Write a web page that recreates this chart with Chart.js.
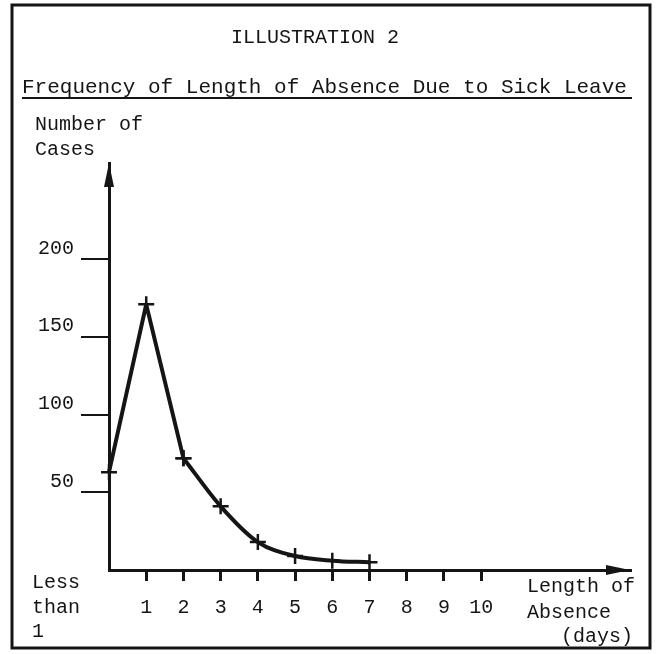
<!DOCTYPE html>
<html>
<head>
<meta charset="utf-8">
<title>Illustration 2</title>
<script src="https://cdn.jsdelivr.net/npm/chart.js@4.4.1/dist/chart.umd.min.js"></script>
<style>
    body { margin: 0; background: #fff; }
    #wrap { width: 657px; height: 654px; position: relative; }
</style>
</head>
<body>
<div id="wrap"><canvas id="line-chart"></canvas></div>
<script>
// length of absence (days), 0 = "less than 1"
var days = [0, 1, 2, 3, 4, 5, 6, 7];
var cases = [63, 171, 72, 41, 18, 9, 6, 5];
var xTicks = [1, 2, 3, 4, 5, 6, 7, 8, 9, 10];
var yTicks = [50, 100, 150, 200];

var ink = '#151515';
var mono = "'Liberation Mono', 'DejaVu Sans Mono', monospace";

function pts(from, to) {
    var out = [];
    for (var i = from; i < to; i++) {
        out.push({x: days[i], y: cases[i]});
    }
    return out;
}

// frame, headings, axis captions and arrow heads
var paperPlugin = {
    id: 'paper',
    afterDraw: function(chart) {
        var c = chart.ctx;
        var a = chart.chartArea;
        c.save();
        c.strokeStyle = ink;
        c.fillStyle = ink;

        c.lineWidth = 3;
        c.strokeRect(12, 5, 638, 643);

        c.textBaseline = 'middle';
        c.textAlign = 'center';
        c.font = '20px ' + mono;
        c.fillText('ILLUSTRATION 2', 315, 38);

        c.textAlign = 'left';
        c.textBaseline = 'alphabetic';
        c.font = '21px ' + mono;
        c.fillText('Frequency of Length of Absence Due to Sick Leave', 22, 93);
        c.lineWidth = 2;
        c.beginPath();
        c.moveTo(22, 98);
        c.lineTo(632, 98);
        c.stroke();

        c.textBaseline = 'middle';
        c.font = '20px ' + mono;
        c.fillText('Number of', 35, 125);
        c.fillText('Cases', 35, 150);

        c.fillText('Less', 32, 583);
        c.fillText('than', 32, 608);
        c.fillText('1', 32, 632);

        c.fillText('Length of', 527, 587);
        c.fillText('Absence', 527, 613);
        c.fillText('(days)', 561, 637);

        // arrow heads at the end of each axis
        c.beginPath();
        c.moveTo(a.left, a.top);
        c.lineTo(a.left - 5, a.top + 24);
        c.lineTo(a.left + 5, a.top + 24);
        c.closePath();
        c.fill();

        c.beginPath();
        c.moveTo(a.right, a.bottom);
        c.lineTo(a.right - 24, a.bottom - 5);
        c.lineTo(a.right - 24, a.bottom + 5);
        c.closePath();
        c.fill();
        c.restore();
    }
};

var ctx = document.getElementById('line-chart').getContext('2d');
var lineChart = new Chart(ctx, {
    type: 'line',
    data: {
        datasets: [
            {
                // straight strokes up to the peak and down to day 2
                label: 'peak',
                data: pts(0, 3),
                tension: 0
            },
            {
                // smooth tail from day 2 on
                label: 'tail',
                data: pts(2, days.length),
                cubicInterpolationMode: 'monotone'
            }
        ]
    },
    options: {
        responsive: true,
        maintainAspectRatio: false,
        animation: false,
        parsing: false,
        layout: {
            padding: {top: 163, right: 27, left: 0, bottom: 0}
        },
        elements: {
            line: {borderColor: ink, borderWidth: 4, fill: false, borderJoinStyle: 'round'},
            point: {
                pointStyle: 'cross',
                radius: 8,
                borderWidth: 2.5,
                borderColor: ink,
                backgroundColor: ink
            }
        },
        datasets: {
            line: {clip: false}
        },
        plugins: {
            legend: {display: false},
            tooltip: {enabled: false}
        },
        scales: {
            x: {
                type: 'linear',
                min: 0,
                max: 14,
                afterBuildTicks: function(scale) {
                    scale.ticks = xTicks.map(function(v) { return {value: v}; });
                },
                afterFit: function(scale) { scale.height = 84; },
                grid: {
                    drawOnChartArea: false,
                    drawTicks: true,
                    tickLength: 11,
                    lineWidth: 3,
                    color: ink
                },
                border: {display: true, color: ink, width: 3},
                ticks: {
                    color: ink,
                    padding: 15,
                    maxRotation: 0,
                    font: {family: mono, size: 20}
                }
            },
            y: {
                min: 0,
                max: 262,
                afterBuildTicks: function(scale) {
                    scale.ticks = yTicks.map(function(v) { return {value: v}; });
                },
                afterFit: function(scale) { scale.width = 109; },
                grid: {
                    drawOnChartArea: false,
                    drawTicks: true,
                    tickLength: 28,
                    lineWidth: 2,
                    color: ink
                },
                border: {display: true, color: ink, width: 3},
                ticks: {
                    color: ink,
                    padding: 7,
                    labelOffset: -11,
                    font: {family: mono, size: 20}
                }
            }
        }
    },
    plugins: [paperPlugin]
});
</script>
</body>
</html>
